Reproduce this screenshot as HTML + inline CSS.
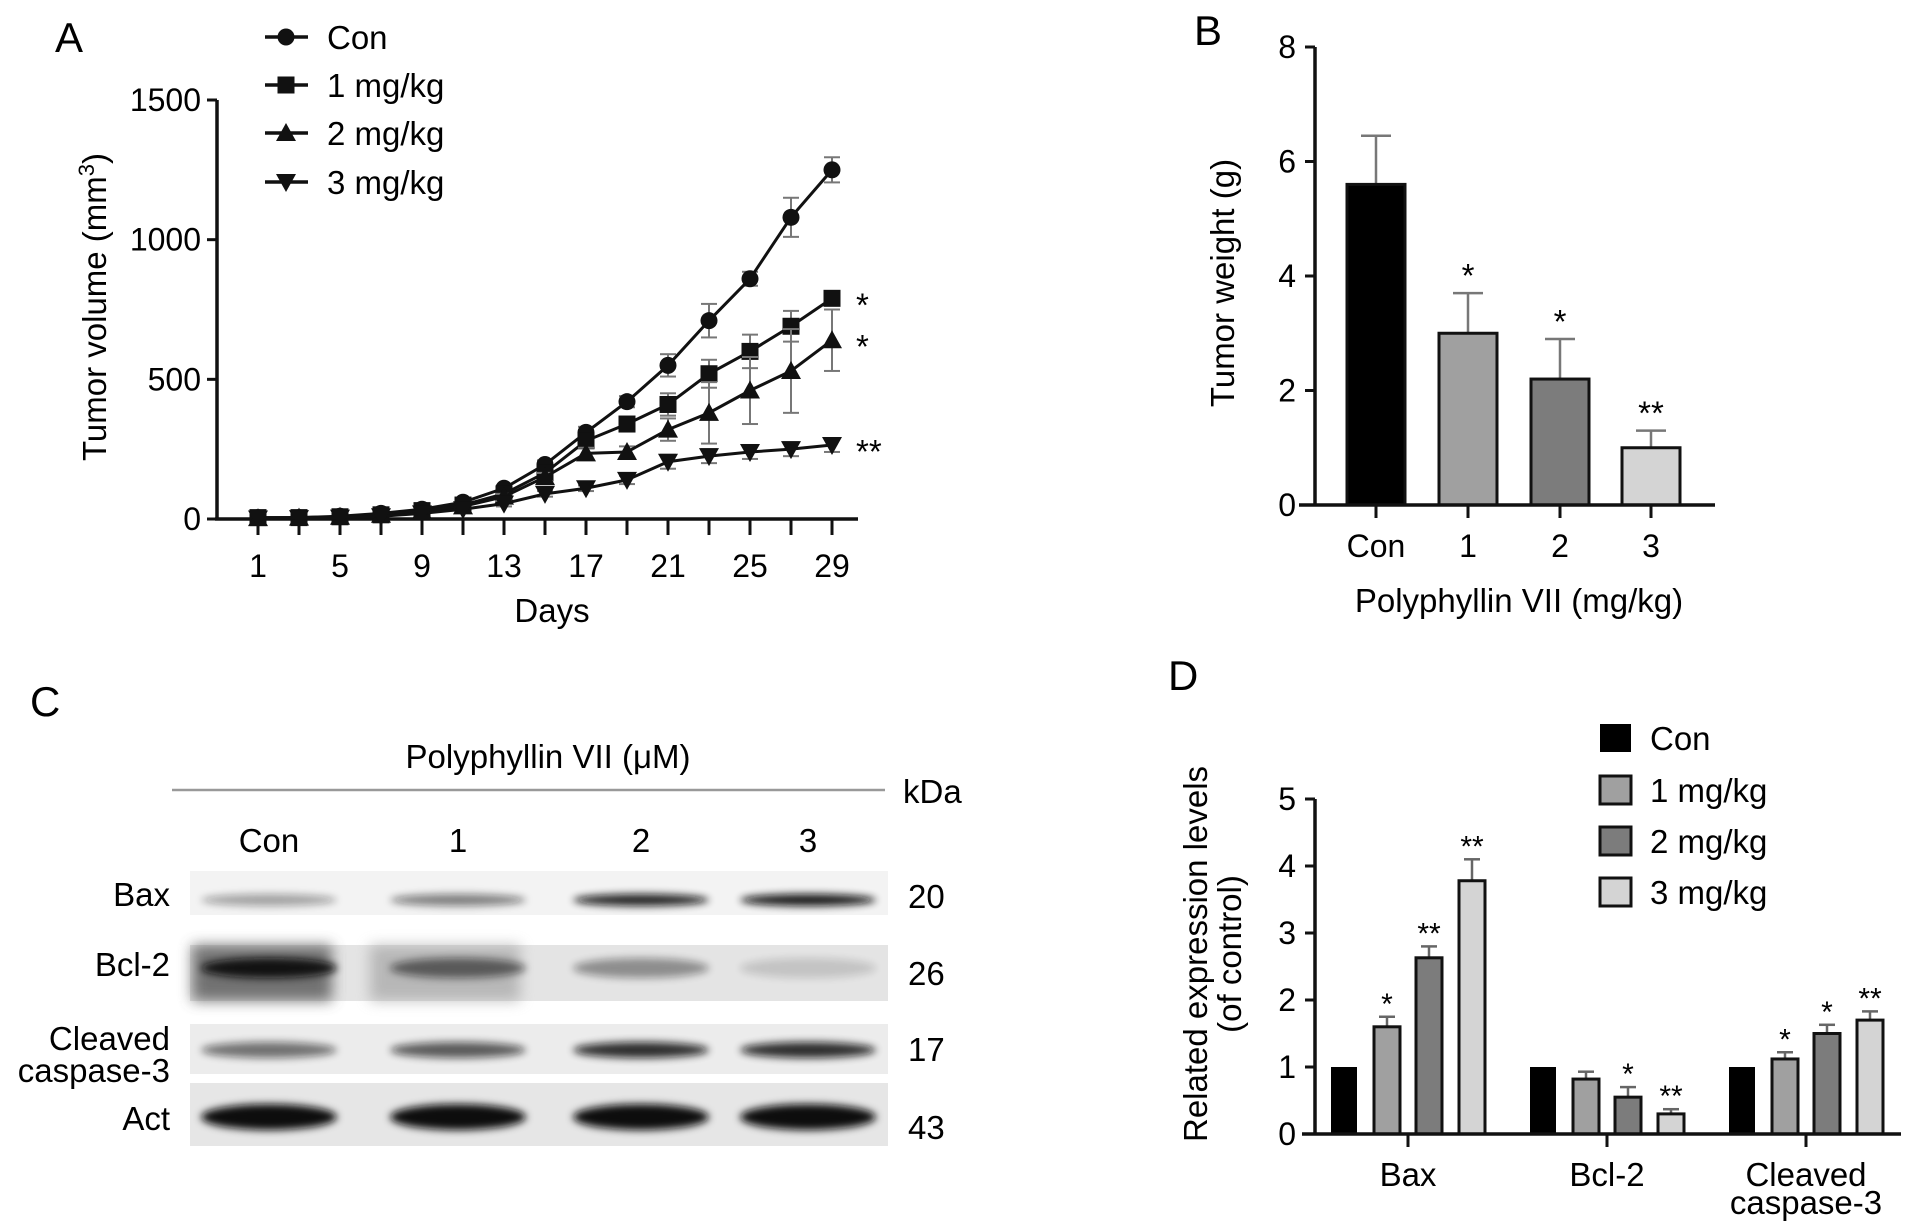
<!DOCTYPE html>
<html><head><meta charset="utf-8">
<style>
html,body{margin:0;padding:0;background:#fff;}
svg{display:block;font-family:"Liberation Sans",Arial,sans-serif;}
</style></head>
<body>
<svg id="fig" width="1913" height="1231" viewBox="0 0 1913 1231">
<defs>
<filter id="blur" x="-20%" y="-100%" width="140%" height="300%"><feGaussianBlur stdDeviation="4"/></filter>
<filter id="blur2" x="-20%" y="-100%" width="140%" height="300%"><feGaussianBlur stdDeviation="7"/></filter>
</defs>
<g id="panelA"></g>
<g id="panelB"></g>
<g id="panelC"></g>
<g id="panelD"></g>
</svg>
<script>
// ---------- Panel A data ----------
const daysA = [1,3,5,7,9,11,13,15,17,19,21,23,25,27,29];
const xTicksA = [1,5,9,13,17,21,25,29];
const yTicksA = [0,500,1000,1500];
const seriesNamesA = ["Con","1 mg/kg","2 mg/kg","3 mg/kg"];
const conA = [5,5,10,20,35,60,110,195,310,420,550,710,860,1080,1250];
const mg1A = [5,5,8,15,30,50,90,165,280,340,410,520,600,690,790];
const mg2A = [3,5,8,15,28,45,80,150,235,240,320,380,460,530,640];
const mg3A = [2,3,5,10,20,35,55,90,110,140,205,225,240,250,265];
const conErrA = [3,3,4,5,6,8,10,15,20,20,40,60,25,70,45];
const mg1ErrA = [3,3,4,5,6,8,10,15,20,20,40,50,60,55,25];
const mg2ErrA = [3,3,4,5,6,8,10,15,20,20,40,110,120,150,110];
const mg3ErrA = [3,3,4,5,6,8,10,10,10,15,25,25,25,25,25];
const starsA = ["","*","*","**"];
// ---------- Panel B data ----------
const catsB = ["Con","1","2","3"];
const valsB = [5.6,3.0,2.2,1.0];
const errB = [0.85,0.7,0.7,0.3];
const starsB = ["","*","*","**"];
const yTicksB = [0,2,4,6,8];
// ---------- Panel D data ----------
const groupsD = ["Bax","Bcl-2","Cleaved caspase-3"];
const conD = [1,1,1];
const mg1D = [1.6,0.82,1.12];
const mg2D = [2.63,0.55,1.5];
const mg3D = [3.78,0.3,1.7];
const mg1ErrD = [0.15,0.11,0.1];
const mg2ErrD = [0.17,0.15,0.13];
const mg3ErrD = [0.32,0.07,0.13];
const starsD1 = ["*","","*"];
const starsD2 = ["**","*","*"];
const starsD3 = ["**","**","**"];
const yTicksD = [0,1,2,3,4,5];

const FS=33, TS=32;
const NS="http://www.w3.org/2000/svg";
function mk(parent,tag,attrs,text){const e=document.createElementNS(NS,tag);for(const k in attrs)e.setAttribute(k,attrs[k]);if(text!==undefined)e.textContent=text;parent.appendChild(e);return e;}

// ================= Panel A =================
(function(){
const g=document.getElementById('panelA');
const xA=d=>258+(d-1)*(832-258)/28;
const yA=v=>519-v*(519-100)/1500;
let t=mk(g,'text',{x:55,y:52,'font-size':42},'A');


let ax=mk(g,'line',{x1:217,y1:yA(1500),x2:217,y2:519,stroke:'#111','stroke-width':3.5});


let ax2=mk(g,'line',{x1:215,y1:519,x2:858,y2:519,stroke:'#111','stroke-width':3.5});


yTicksA.forEach(v=>{
 mk(g,'line',{x1:207,y1:yA(v),x2:217,y2:yA(v),stroke:'#111','stroke-width':3});
 let l=mk(g,'text',{x:201,y:yA(v)+11,'font-size':TS,'text-anchor':'end'},String(v));
 
 
});
daysA.forEach(d=>{mk(g,'line',{x1:xA(d),y1:519,x2:xA(d),y2:535,stroke:'#111','stroke-width':3});});
xTicksA.forEach(d=>{
 let l=mk(g,'text',{x:xA(d),y:577,'font-size':TS,'text-anchor':'middle'},String(d));
 
 
});
let xt=mk(g,'text',{x:552,y:622,'font-size':FS,'text-anchor':'middle'},'Days');


let yt=mk(g,'text',{x:0,y:0,'font-size':FS,'text-anchor':'middle',transform:'translate(106,307) rotate(-90)'});


yt.innerHTML='Tumor volume (mm<tspan dy="-12" font-size="22">3</tspan><tspan dy="12">)</tspan>';
const all=[conA,mg1A,mg2A,mg3A], errs=[conErrA,mg1ErrA,mg2ErrA,mg3ErrA];
function marker(p,k,x,y){
 if(k===0) return mk(p,'circle',{cx:x,cy:y,r:8.5,fill:'#111'});
 if(k===1) return mk(p,'rect',{x:x-8.5,y:y-8.5,width:17,height:17,fill:'#111'});
 if(k===2) return mk(p,'polygon',{points:`${x},${y-10} ${x+10},${y+8} ${x-10},${y+8}`,fill:'#111'});
 return mk(p,'polygon',{points:`${x},${y+10} ${x+10},${y-8} ${x-10},${y-8}`,fill:'#111'});
}
all.forEach((s,k)=>{
 const sg=mk(g,'g',{});
 
 
 s.forEach((v,i)=>{
  const x=xA(daysA[i]),e=errs[k][i];
  if(e>8){
   mk(sg,'line',{x1:x,y1:yA(v-e),x2:x,y2:yA(v+e),stroke:'#777','stroke-width':2});
   mk(sg,'line',{x1:x-8,y1:yA(v+e),x2:x+8,y2:yA(v+e),stroke:'#777','stroke-width':2});
   mk(sg,'line',{x1:x-8,y1:yA(v-e),x2:x+8,y2:yA(v-e),stroke:'#777','stroke-width':2});
  }
 });
 mk(sg,'polyline',{points:s.map((v,i)=>xA(daysA[i])+','+yA(v)).join(' '),fill:'none',stroke:'#111','stroke-width':3});
 s.forEach((v,i)=>{const m=marker(sg,k,xA(daysA[i]),yA(v));
  
  });
 if(starsA[k]){
  let st=mk(g,'text',{x:856,y:yA(s[s.length-1])+18,'font-size':FS},starsA[k]);
  
  
 }
});
const legY=[37,85,133,182];
seriesNamesA.forEach((n,k)=>{
 const lg=mk(g,'g',{});
 
 
 mk(lg,'line',{x1:265,y1:legY[k],x2:308,y2:legY[k],stroke:'#111','stroke-width':3.5});
 marker(lg,k,286,legY[k]);
 mk(lg,'text',{x:327,y:legY[k]+12,'font-size':FS},n);
});
})();

// ================= Panel B =================
(function(){
const g=document.getElementById('panelB');
const yB=v=>505-v*(505-47)/8;
const xB=[1376,1468,1560,1651];
const fills=['#000','#a0a0a0','#7c7c7c','#d4d4d4'];
let t=mk(g,'text',{x:1194,y:45,'font-size':42},'B');


let ax=mk(g,'line',{x1:1315,y1:yB(8),x2:1315,y2:505,stroke:'#111','stroke-width':3.5});


yTicksB.forEach(v=>{
 mk(g,'line',{x1:1305,y1:yB(v),x2:1315,y2:yB(v),stroke:'#111','stroke-width':3});
 let l=mk(g,'text',{x:1296,y:yB(v)+11,'font-size':TS,'text-anchor':'end'},String(v));
 
 
});
valsB.forEach((v,i)=>{
 const x=xB[i];
 const top=yB(v+errB[i]);
 mk(g,'line',{x1:x,y1:yB(v),x2:x,y2:top,stroke:'#777','stroke-width':2.5});
 mk(g,'line',{x1:x-15,y1:top,x2:x+15,y2:top,stroke:'#777','stroke-width':2.5});
 let b=mk(g,'rect',{x:x-29,y:yB(v),width:58,height:505-yB(v),fill:fills[i],stroke:'#111','stroke-width':3});
 
 
 if(starsB[i]){let s=mk(g,'text',{x:x,y:top-6,'font-size':FS,'text-anchor':'middle'},starsB[i]);
  
  }
 mk(g,'line',{x1:x,y1:505,x2:x,y2:518,stroke:'#111','stroke-width':3});
 let l=mk(g,'text',{x:x,y:557,'font-size':TS,'text-anchor':'middle'},catsB[i]);
 
 
});
let ax2=mk(g,'line',{x1:1299,y1:505,x2:1715,y2:505,stroke:'#111','stroke-width':3.5});


let xt=mk(g,'text',{x:1519,y:612,'font-size':FS,'text-anchor':'middle'},'Polyphyllin VII (mg/kg)');


let yt=mk(g,'text',{x:0,y:0,'font-size':FS,'text-anchor':'middle',transform:'translate(1234,283) rotate(-90)'},'Tumor weight (g)');


})();

// ================= Panel C =================
(function(){
const g=document.getElementById('panelC');
let t=mk(g,'text',{x:30,y:716,'font-size':42},'C');


let tt=mk(g,'text',{x:548,y:768,'font-size':FS,'text-anchor':'middle'},'Polyphyllin VII (\u03bcM)');


mk(g,'line',{x1:172,y1:790,x2:885,y2:790,stroke:'#999','stroke-width':2.5});
let kd=mk(g,'text',{x:903,y:803,'font-size':FS},'kDa');


const lanes=[269,458,641,808], laneLbl=['Con','1','2','3'];
laneLbl.forEach((n,i)=>{let l=mk(g,'text',{x:lanes[i],y:852,'font-size':FS,'text-anchor':'middle'},n);
 
 });
const strips=[{y:871,h:44,bg:'#f3f3f3'},{y:945,h:56,bg:'#e4e4e4'},{y:1024,h:50,bg:'#ececec'},{y:1083,h:63,bg:'#e6e6e6'}];
strips.forEach((s,i)=>{let r=mk(g,'rect',{x:190,y:s.y,width:698,height:s.h,fill:s.bg});
 
 });
mk(g,'rect',{x:192,y:945,width:140,height:56,fill:'#555',filter:'url(#blur2)',opacity:0.8});
mk(g,'rect',{x:370,y:945,width:150,height:56,fill:'#9a9a9a',filter:'url(#blur2)',opacity:0.6});
const bands=[
 {y:900,h:8,op:[0.35,0.5,0.9,0.95]},
 {y:968,h:16,op:[0.95,0.55,0.4,0.15]},
 {y:1050,h:12,op:[0.55,0.65,0.85,0.85]},
 {y:1117,h:22,op:[1,1,1,1]}
];
bands.forEach(b=>{lanes.forEach((x,i)=>{let e=mk(g,'ellipse',{cx:x,cy:b.y,rx:68,ry:b.h/2+2,fill:'#111',opacity:b.op[i],filter:'url(#blur)'});
 
 });});
const rl=[['Bax',906],['Bcl-2',976],['Cleaved',1050],['caspase-3',1082],['Act',1130]];
rl.forEach(r=>{let l=mk(g,'text',{x:170,y:r[1],'font-size':FS,'text-anchor':'end'},r[0]);
 
 });
const kv=[['20',908],['26',985],['17',1061],['43',1139]];
kv.forEach(r=>{let l=mk(g,'text',{x:908,y:r[1],'font-size':FS},r[0]);
 
 });
})();

// ================= Panel D =================
(function(){
const g=document.getElementById('panelD');
const yD=v=>1134-v*(1134-799)/5;
const groupX=[1408,1607,1806];
const off=[-64,-21,21,64];
const fills=['#000','#a0a0a0','#7c7c7c','#d4d4d4'];
let t=mk(g,'text',{x:1168,y:690,'font-size':42},'D');


let ax=mk(g,'line',{x1:1315,y1:yD(5),x2:1315,y2:1134,stroke:'#111','stroke-width':3.5});


yTicksD.forEach(v=>{
 mk(g,'line',{x1:1305,y1:yD(v),x2:1315,y2:yD(v),stroke:'#111','stroke-width':3});
 let l=mk(g,'text',{x:1296,y:yD(v)+11,'font-size':TS,'text-anchor':'end'},String(v));
 
 
});
const series=[conD,mg1D,mg2D,mg3D], errs=[null,mg1ErrD,mg2ErrD,mg3ErrD], stars=[null,starsD1,starsD2,starsD3];
groupsD.forEach((gn,gi)=>{
 series.forEach((s,k)=>{
  const x=groupX[gi]+off[k], v=s[gi];
  let top=yD(v);
  if(errs[k]){top=yD(v+errs[k][gi]);
   mk(g,'line',{x1:x,y1:yD(v),x2:x,y2:top,stroke:'#666','stroke-width':2.5});
   mk(g,'line',{x1:x-8,y1:top,x2:x+8,y2:top,stroke:'#666','stroke-width':2.5});}
  let b=mk(g,'rect',{x:x-13,y:yD(v),width:26,height:1134-yD(v),fill:fills[k],stroke:'#111','stroke-width':k?3:0});
  
  
  if(stars[k]&&stars[k][gi]){let st=mk(g,'text',{x:x,y:top-3,'font-size':30,'text-anchor':'middle'},stars[k][gi]);
   
   }
 });
 mk(g,'line',{x1:groupX[gi],y1:1134,x2:groupX[gi],y2:1147,stroke:'#111','stroke-width':3});
});
let ax2=mk(g,'line',{x1:1302,y1:1134,x2:1901,y2:1134,stroke:'#111','stroke-width':3.5});


const xl=[['Bax',1408,1186],['Bcl-2',1607,1186],['Cleaved',1806,1186],['caspase-3',1806,1214]];
xl.forEach(r=>{let l=mk(g,'text',{x:r[1],y:r[2],'font-size':FS,'text-anchor':'middle'},r[0]);
 
 });
let yt=mk(g,'text',{x:0,y:0,'font-size':FS,'text-anchor':'middle',transform:'translate(1207,954) rotate(-90)'},'Related expression levels');


let yt2=mk(g,'text',{x:0,y:0,'font-size':FS,'text-anchor':'middle',transform:'translate(1241,954) rotate(-90)'},'(of control)');


const legN=['Con','1 mg/kg','2 mg/kg','3 mg/kg'], legY=[738,790,841,892];
legN.forEach((n,k)=>{
 const lg=mk(g,'g',{});
 
 
 mk(lg,'rect',{x:1600,y:legY[k]-14,width:31,height:28,fill:fills[k],stroke:'#111','stroke-width':k?3:0});
 mk(lg,'text',{x:1650,y:legY[k]+12,'font-size':FS},n);
});
})();
</script>
</body></html>
